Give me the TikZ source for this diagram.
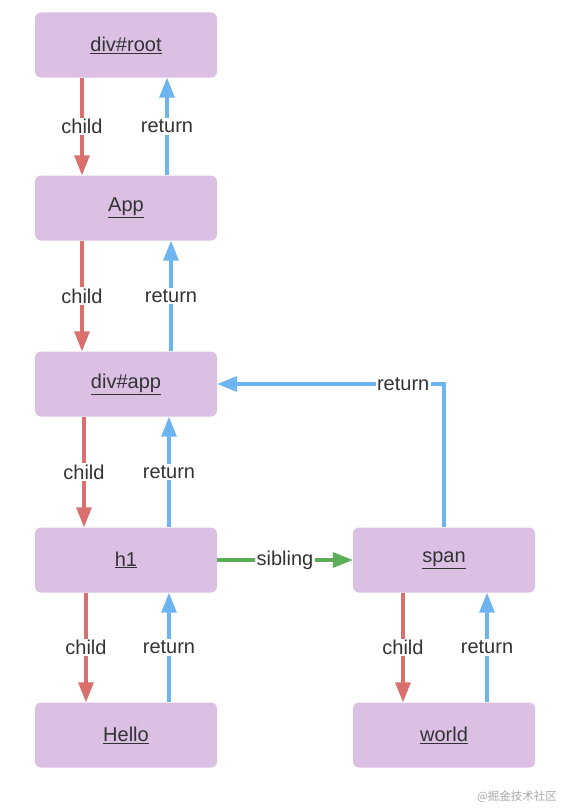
\documentclass[tikz,border=0pt]{standalone}
\usepackage{fontspec}
\setmainfont{Liberation Sans}
\newfontfamily\cjkfont{Noto Sans CJK SC}
\usetikzlibrary{arrows.meta}
\definecolor{fiber-fill}{HTML}{DBC0E4}
\definecolor{child-red}{HTML}{D9706E}
\definecolor{return-blue}{HTML}{6DB4F3}
\definecolor{sibling-green}{HTML}{5BAE57}
\definecolor{jet}{HTML}{333333}
\definecolor{mark-gray}{HTML}{A8A8A8}

\begin{document}
\begin{tikzpicture}[x=1pt, y=-1pt,
    every node/.style={font=\fontsize{20}{23}\selectfont, text=jet},
    fiber/.style={fill=fiber-fill, rounded corners=6pt, minimum width=182pt, minimum height=65pt},
    tag/.style={fill=white, inner sep=1.5pt},
    link/.style={line width=3.2pt, -{Triangle[length=20pt, width=15pt]}},
    childline/.style={link, color=child-red},
    returnline/.style={link, color=return-blue},
    siblingline/.style={link, color=sibling-green}]
    \useasboundingbox (0,0) rectangle (566,808);
    % fibers
    \node[fiber] (root) at (126,45) {\underline{div\#root}};
    \node[fiber] (app) at (126,208) {\underline{App}};
    \node[fiber] (divapp) at (126,384) {\underline{div\#app}};
    \node[fiber] (h1) at (126,560) {\underline{h1}};
    \node[fiber] (hello) at (126,735) {\underline{Hello}};
    \node[fiber] (span) at (444,560) {\underline{span}};
    \node[fiber] (world) at (444,735) {\underline{world}};
    % child / return pairs
    \draw[childline] ([xshift=-44pt]root.south) -- node[tag] {child} ([xshift=-44pt]app.north);
    \draw[returnline] ([xshift=41pt]app.north) -- node[tag] {return} ([xshift=41pt]root.south);
    \draw[childline] ([xshift=-44pt]app.south) -- node[tag] {child} ([xshift=-44pt]divapp.north);
    \draw[returnline] ([xshift=45pt]divapp.north) -- node[tag] {return} ([xshift=45pt]app.south);
    \draw[childline] ([xshift=-42pt]divapp.south) -- node[tag] {child} ([xshift=-42pt]h1.north);
    \draw[returnline] ([xshift=43pt]h1.north) -- node[tag] {return} ([xshift=43pt]divapp.south);
    \draw[childline] ([xshift=-40pt]h1.south) -- node[tag] {child} ([xshift=-40pt]hello.north);
    \draw[returnline] ([xshift=43pt]hello.north) -- node[tag] {return} ([xshift=43pt]h1.south);
    \draw[childline] ([xshift=-41pt]span.south) -- node[tag] {child} ([xshift=-41pt]world.north);
    \draw[returnline] ([xshift=43pt]world.north) -- node[tag] {return} ([xshift=43pt]span.south);
    % sibling and the long return
    \draw[siblingline] (h1.east) -- node[tag] {sibling} (span.west);
    \draw[returnline] (span.north) |- node[tag, pos=0.59] {return} (divapp.east);
    \node[text=mark-gray, font=\cjkfont\fontsize{11.5}{13}\selectfont] (mark) at (517,797) {@掘金技术社区};
\end{tikzpicture}
\end{document}
